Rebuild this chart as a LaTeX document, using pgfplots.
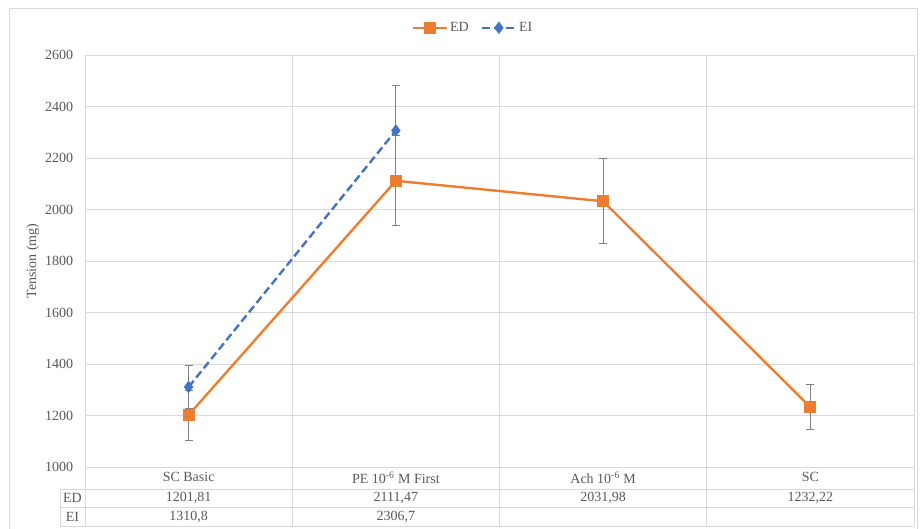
\documentclass[border=0pt]{standalone}
\usepackage{pgfplots}
\pgfplotsset{compat=1.18}
\usepackage{fontspec}
\setmainfont{Liberation Serif}
\definecolor{edorange}{HTML}{ED7D31}
\definecolor{eiblue}{HTML}{4472C4}
\definecolor{gridgray}{HTML}{D9D9D9}
\definecolor{txtgray}{HTML}{595959}
\definecolor{errgray}{HTML}{808080}
\newcommand{\chartfont}{\fontsize{14bp}{16bp}\selectfont}
\begin{document}
\chartfont
\begin{tikzpicture}[x=1bp,y=1bp]
\useasboundingbox (0,0) rectangle (920,529);
% outer chart border
\draw[gridgray, line width=0.8bp] (9,-2) -- (9,521) -- (917,521) -- (917,-2);
\begin{axis}[
  at={(85bp,62bp)}, anchor=south west,
  scale only axis, width=829bp, height=412bp,
  xmin=-0.5, xmax=3.5, ymin=1000, ymax=2600,
  xtick={0,1,2,3},
  xticklabels={SC Basic, PE 10\textsuperscript{-6} M First, Ach 10\textsuperscript{-6} M, SC},
  minor xtick={0.5,1.5,2.5},
  xminorgrids, ymajorgrids,
  ytick={1000,1200,...,2600},
  major tick length=0pt, minor tick length=0pt,
  grid style={gridgray, line width=0.8bp},
  minor grid style={gridgray, line width=0.8bp},
  axis line style={gridgray, line width=0.8bp},
  tick label style={txtgray, font=\chartfont},
  /pgf/number format/assume math mode=true,
  /pgf/number format/1000 sep={},
  yticklabel style={xshift=-7bp},
  xticklabel style={yshift=0bp},
  ylabel={Tension (mg)},
  ylabel style={txtgray, font=\chartfont, at={(axis description cs:-0.063,0.5)}, anchor=center},
  clip=false,
  legend columns=2,
  legend style={draw=none, fill=none, at={(0.468,1.066)}, anchor=center,
    font=\chartfont, text=txtgray,
    /tikz/every even column/.append style={column sep=10bp}},
  legend image code/.code={\draw[mark repeat=2,mark phase=2,#1] plot coordinates {(0bp,0bp) (17bp,0bp) (34bp,0bp)};},
]
\addplot[edorange, line width=2.4bp, mark=square*, mark size=4.8bp, mark options={solid, fill=edorange},
  error bars/.cd, y dir=both, y explicit,
  error bar style={errgray, line width=1bp},
  error mark options={errgray, rotate=90, mark size=4bp, line width=1bp}]
  coordinates {
  (0,1201.81) +- (0,97)
  (1,2111.47) +- (0,175)
  (2,2031.98) +- (0,165)
  (3,1232.22) +- (0,88)
};
\addlegendentry{ED}
\addplot[eiblue, line width=2.4bp, dash pattern=on 8bp off 4bp, mark=diamond*, mark size=4.3bp, mark options={solid, fill=eiblue},
  error bars/.cd, y dir=both, y explicit,
  error bar style={errgray, line width=1bp, solid},
  error mark options={errgray, rotate=90, mark size=4bp, line width=1bp, solid}]
  coordinates {
  (0,1310.8) +- (0,84)
  (1,2306.7) +- (0,176)
};
\addlegendentry{EI}
\end{axis}
% data table
\begin{scope}[gridgray, line width=0.8bp]
\draw (60,40) -- (914,40);
\draw (60,22) -- (914,22);
\draw (60,3) -- (914,3);
\draw (60,40) -- (60,3);
\draw (85,62) -- (85,3);
\draw (292.25,62) -- (292.25,3);
\draw (499.5,62) -- (499.5,3);
\draw (706.75,62) -- (706.75,3);
\draw (914,62) -- (914,3);
\end{scope}
\begin{scope}[every node/.style={txtgray, font=\chartfont, anchor=center}]
\node at (72.5,31) {ED};
\node at (72.5,12.5) {EI};
\node at (188.6,31) {1201,81};
\node at (395.9,31) {2111,47};
\node at (603.1,31) {2031,98};
\node at (810.4,31) {1232,22};
\node at (188.6,12.5) {1310,8};
\node at (395.9,12.5) {2306,7};
\end{scope}
\end{tikzpicture}
\end{document}
